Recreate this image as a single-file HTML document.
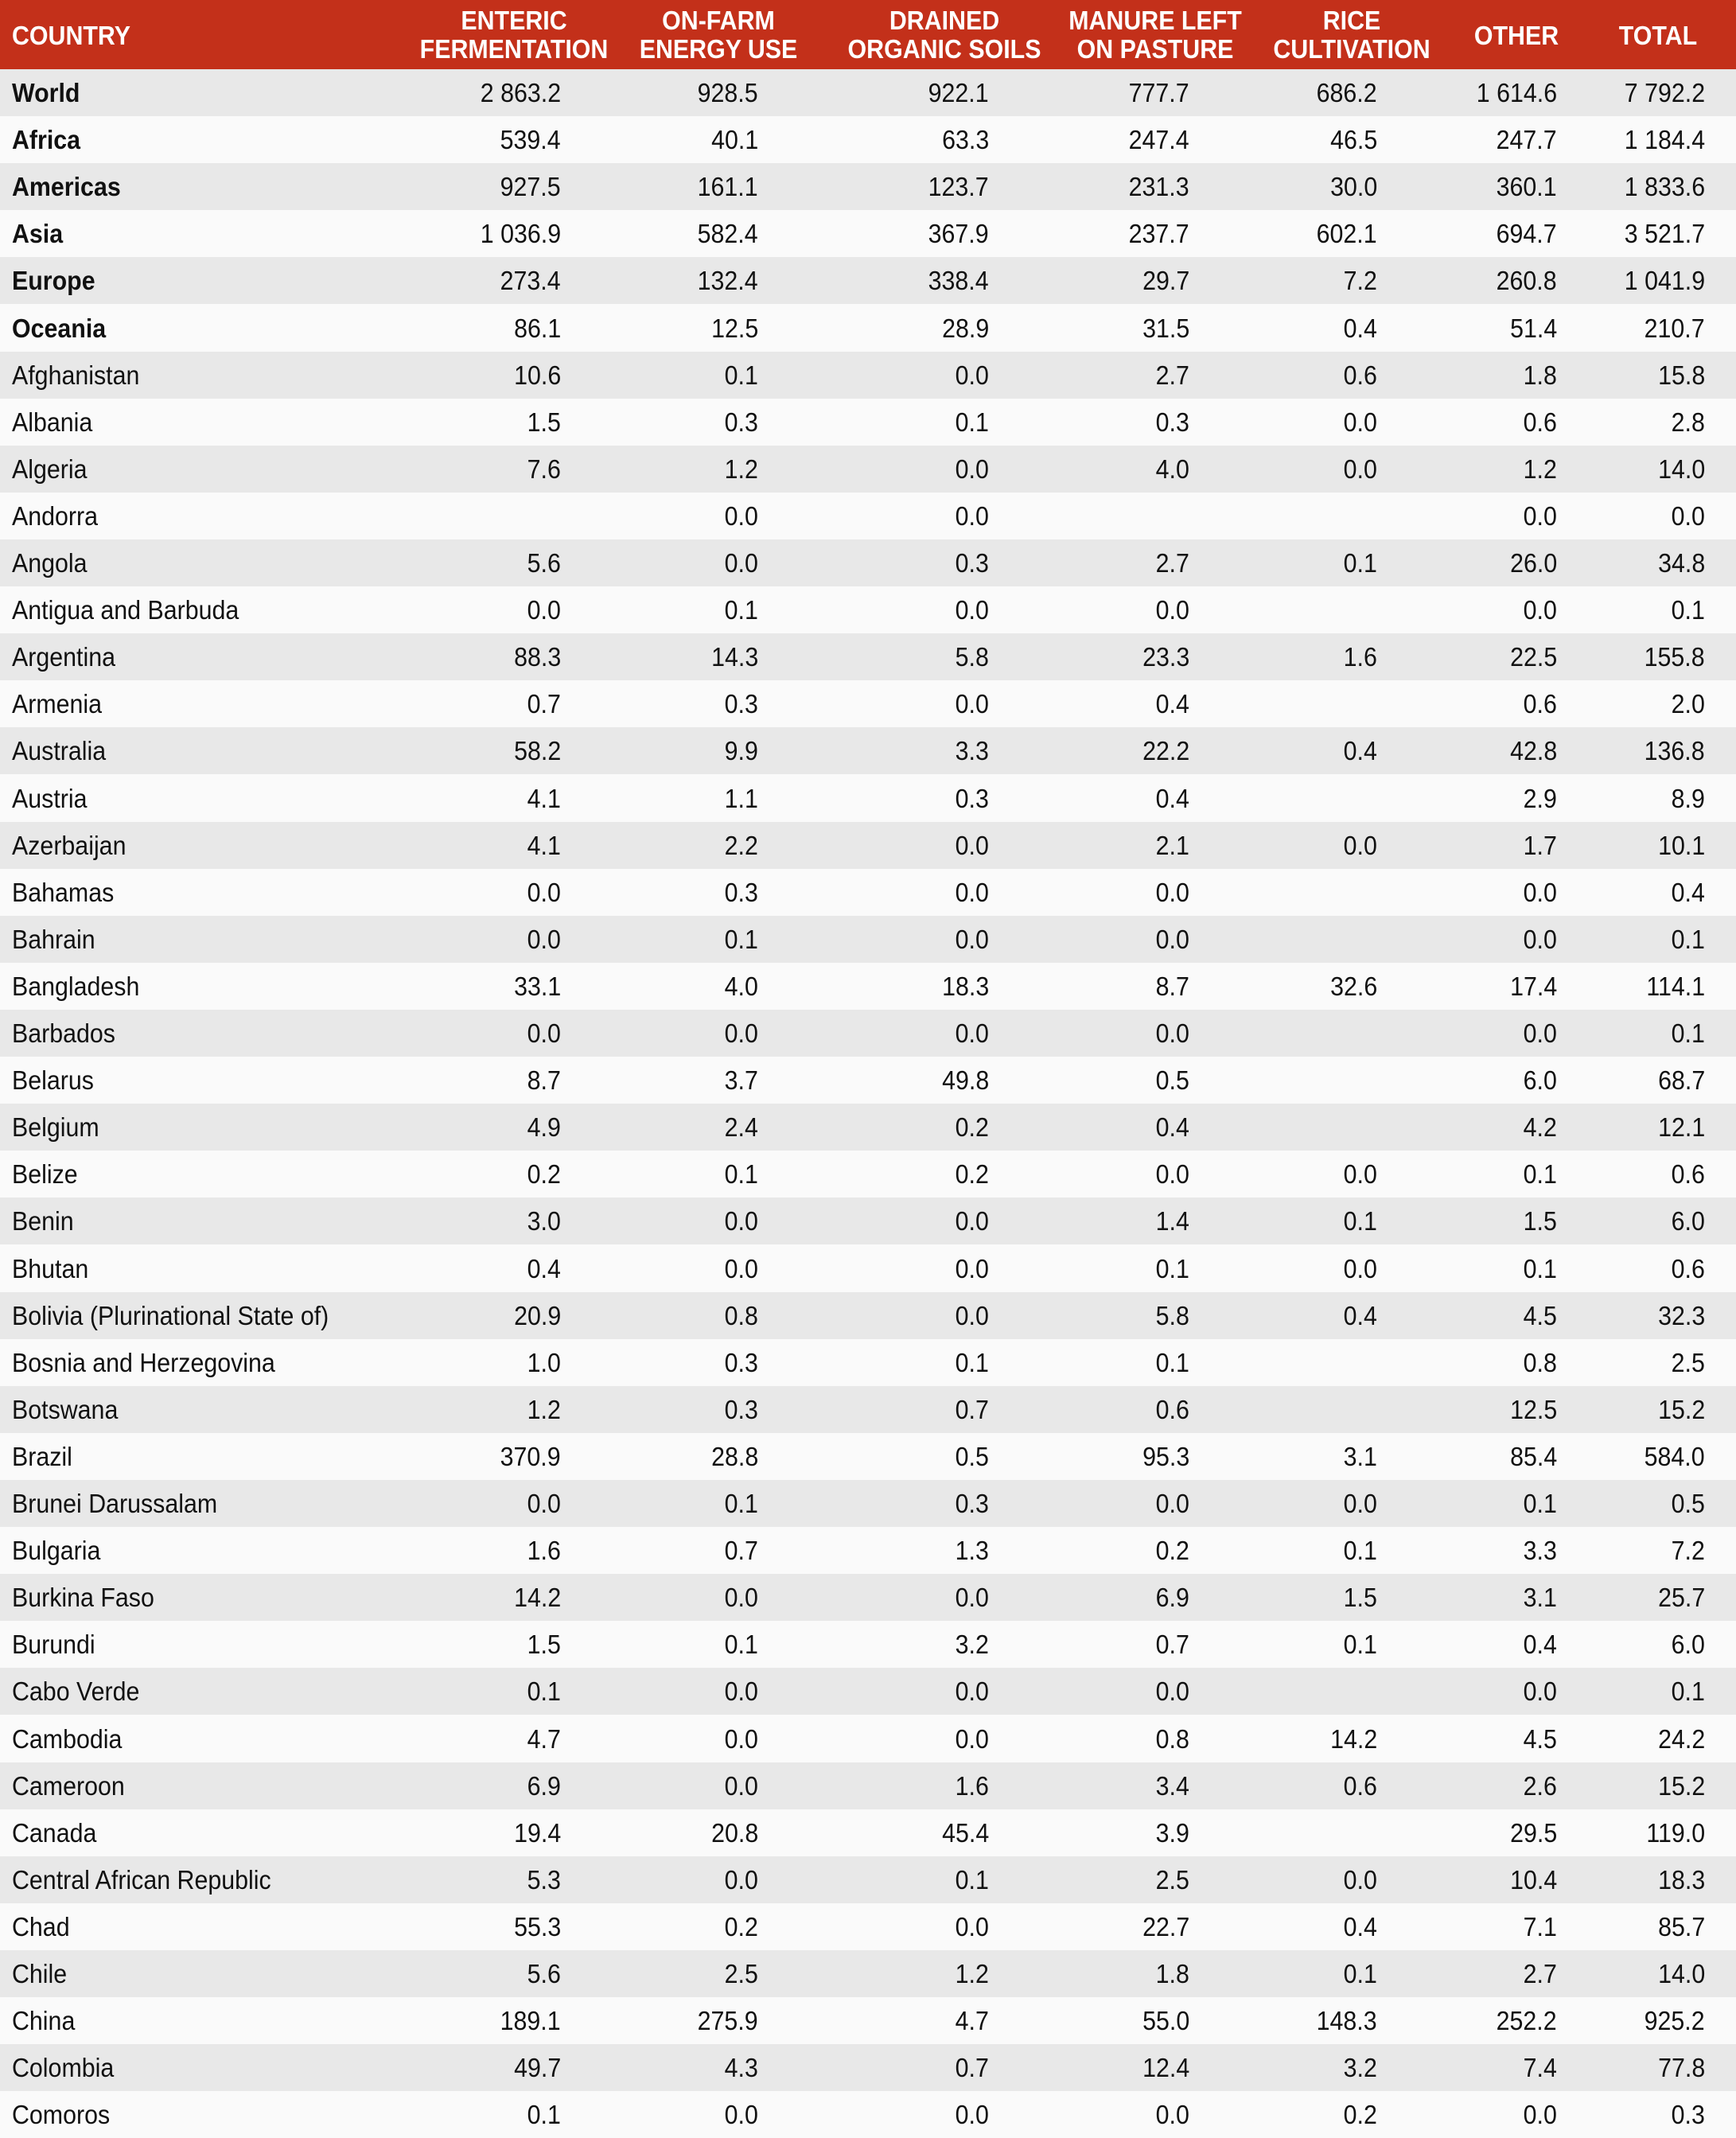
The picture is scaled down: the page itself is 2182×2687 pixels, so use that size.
<!DOCTYPE html>
<html><head><meta charset="utf-8"><style>
body{margin:0;width:2182px;height:2683px;background:#fafafa;font-family:"Liberation Sans",sans-serif;overflow:hidden}
.h{position:absolute;left:0;top:0;width:2182px;height:87px;background:#c3301a;color:#fff;font-weight:bold;font-size:33px}
.h div{position:absolute;text-align:center;line-height:36px;top:8px;transform:scaleX(0.92)}
.r{position:absolute;left:0;width:2182px;height:59.1px;font-size:33px;color:#111}
.r span{position:absolute;top:0;line-height:59px;white-space:nowrap;transform:scaleX(0.92);transform-origin:right center}
.r span.c{left:15px;transform-origin:left center}
.b span.c{font-weight:bold}
.r span:nth-child(2){right:1477px}.r span:nth-child(3){right:1229px}.r span:nth-child(4){right:939px}
.r span:nth-child(5){right:687px}.r span:nth-child(6){right:451px}.r span:nth-child(7){right:225px}.r span:nth-child(8){right:39px}
</style></head><body>
<div class="h">
<div style="left:15px;top:27px;transform-origin:left center">COUNTRY</div>
<div style="left:506px;width:280px">ENTERIC<br>FERMENTATION</div>
<div style="left:763px;width:280px">ON-FARM<br>ENERGY USE</div>
<div style="left:1037px;width:300px">DRAINED<br>ORGANIC SOILS</div>
<div style="left:1312px;width:280px">MANURE LEFT<br>ON PASTURE</div>
<div style="left:1559px;width:280px">RICE<br>CULTIVATION</div>
<div style="left:1846px;width:120px;top:27px">OTHER</div>
<div style="left:2024px;width:120px;top:27px">TOTAL</div>
</div>
<div id="t" style="position:absolute;left:0;top:87px;width:2182px">
<div class="r b" style="top:0px;background:#e8e8e8"><span class="c">World</span><span>2 863.2</span><span>928.5</span><span>922.1</span><span>777.7</span><span>686.2</span><span>1 614.6</span><span>7 792.2</span></div>
<div class="r b" style="top:59.1px;background:#fafafa"><span class="c">Africa</span><span>539.4</span><span>40.1</span><span>63.3</span><span>247.4</span><span>46.5</span><span>247.7</span><span>1 184.4</span></div>
<div class="r b" style="top:118.2px;background:#e8e8e8"><span class="c">Americas</span><span>927.5</span><span>161.1</span><span>123.7</span><span>231.3</span><span>30.0</span><span>360.1</span><span>1 833.6</span></div>
<div class="r b" style="top:177.3px;background:#fafafa"><span class="c">Asia</span><span>1 036.9</span><span>582.4</span><span>367.9</span><span>237.7</span><span>602.1</span><span>694.7</span><span>3 521.7</span></div>
<div class="r b" style="top:236.4px;background:#e8e8e8"><span class="c">Europe</span><span>273.4</span><span>132.4</span><span>338.4</span><span>29.7</span><span>7.2</span><span>260.8</span><span>1 041.9</span></div>
<div class="r b" style="top:295.5px;background:#fafafa"><span class="c">Oceania</span><span>86.1</span><span>12.5</span><span>28.9</span><span>31.5</span><span>0.4</span><span>51.4</span><span>210.7</span></div>
<div class="r" style="top:354.6px;background:#e8e8e8"><span class="c">Afghanistan</span><span>10.6</span><span>0.1</span><span>0.0</span><span>2.7</span><span>0.6</span><span>1.8</span><span>15.8</span></div>
<div class="r" style="top:413.7px;background:#fafafa"><span class="c">Albania</span><span>1.5</span><span>0.3</span><span>0.1</span><span>0.3</span><span>0.0</span><span>0.6</span><span>2.8</span></div>
<div class="r" style="top:472.8px;background:#e8e8e8"><span class="c">Algeria</span><span>7.6</span><span>1.2</span><span>0.0</span><span>4.0</span><span>0.0</span><span>1.2</span><span>14.0</span></div>
<div class="r" style="top:531.9px;background:#fafafa"><span class="c">Andorra</span><span></span><span>0.0</span><span>0.0</span><span></span><span></span><span>0.0</span><span>0.0</span></div>
<div class="r" style="top:591px;background:#e8e8e8"><span class="c">Angola</span><span>5.6</span><span>0.0</span><span>0.3</span><span>2.7</span><span>0.1</span><span>26.0</span><span>34.8</span></div>
<div class="r" style="top:650.1px;background:#fafafa"><span class="c">Antigua and Barbuda</span><span>0.0</span><span>0.1</span><span>0.0</span><span>0.0</span><span></span><span>0.0</span><span>0.1</span></div>
<div class="r" style="top:709.2px;background:#e8e8e8"><span class="c">Argentina</span><span>88.3</span><span>14.3</span><span>5.8</span><span>23.3</span><span>1.6</span><span>22.5</span><span>155.8</span></div>
<div class="r" style="top:768.3px;background:#fafafa"><span class="c">Armenia</span><span>0.7</span><span>0.3</span><span>0.0</span><span>0.4</span><span></span><span>0.6</span><span>2.0</span></div>
<div class="r" style="top:827.4px;background:#e8e8e8"><span class="c">Australia</span><span>58.2</span><span>9.9</span><span>3.3</span><span>22.2</span><span>0.4</span><span>42.8</span><span>136.8</span></div>
<div class="r" style="top:886.5px;background:#fafafa"><span class="c">Austria</span><span>4.1</span><span>1.1</span><span>0.3</span><span>0.4</span><span></span><span>2.9</span><span>8.9</span></div>
<div class="r" style="top:945.6px;background:#e8e8e8"><span class="c">Azerbaijan</span><span>4.1</span><span>2.2</span><span>0.0</span><span>2.1</span><span>0.0</span><span>1.7</span><span>10.1</span></div>
<div class="r" style="top:1004.7px;background:#fafafa"><span class="c">Bahamas</span><span>0.0</span><span>0.3</span><span>0.0</span><span>0.0</span><span></span><span>0.0</span><span>0.4</span></div>
<div class="r" style="top:1063.8px;background:#e8e8e8"><span class="c">Bahrain</span><span>0.0</span><span>0.1</span><span>0.0</span><span>0.0</span><span></span><span>0.0</span><span>0.1</span></div>
<div class="r" style="top:1122.9px;background:#fafafa"><span class="c">Bangladesh</span><span>33.1</span><span>4.0</span><span>18.3</span><span>8.7</span><span>32.6</span><span>17.4</span><span>114.1</span></div>
<div class="r" style="top:1182px;background:#e8e8e8"><span class="c">Barbados</span><span>0.0</span><span>0.0</span><span>0.0</span><span>0.0</span><span></span><span>0.0</span><span>0.1</span></div>
<div class="r" style="top:1241.1px;background:#fafafa"><span class="c">Belarus</span><span>8.7</span><span>3.7</span><span>49.8</span><span>0.5</span><span></span><span>6.0</span><span>68.7</span></div>
<div class="r" style="top:1300.2px;background:#e8e8e8"><span class="c">Belgium</span><span>4.9</span><span>2.4</span><span>0.2</span><span>0.4</span><span></span><span>4.2</span><span>12.1</span></div>
<div class="r" style="top:1359.3px;background:#fafafa"><span class="c">Belize</span><span>0.2</span><span>0.1</span><span>0.2</span><span>0.0</span><span>0.0</span><span>0.1</span><span>0.6</span></div>
<div class="r" style="top:1418.4px;background:#e8e8e8"><span class="c">Benin</span><span>3.0</span><span>0.0</span><span>0.0</span><span>1.4</span><span>0.1</span><span>1.5</span><span>6.0</span></div>
<div class="r" style="top:1477.5px;background:#fafafa"><span class="c">Bhutan</span><span>0.4</span><span>0.0</span><span>0.0</span><span>0.1</span><span>0.0</span><span>0.1</span><span>0.6</span></div>
<div class="r" style="top:1536.6px;background:#e8e8e8"><span class="c">Bolivia (Plurinational State of)</span><span>20.9</span><span>0.8</span><span>0.0</span><span>5.8</span><span>0.4</span><span>4.5</span><span>32.3</span></div>
<div class="r" style="top:1595.7px;background:#fafafa"><span class="c">Bosnia and Herzegovina</span><span>1.0</span><span>0.3</span><span>0.1</span><span>0.1</span><span></span><span>0.8</span><span>2.5</span></div>
<div class="r" style="top:1654.8px;background:#e8e8e8"><span class="c">Botswana</span><span>1.2</span><span>0.3</span><span>0.7</span><span>0.6</span><span></span><span>12.5</span><span>15.2</span></div>
<div class="r" style="top:1713.9px;background:#fafafa"><span class="c">Brazil</span><span>370.9</span><span>28.8</span><span>0.5</span><span>95.3</span><span>3.1</span><span>85.4</span><span>584.0</span></div>
<div class="r" style="top:1773px;background:#e8e8e8"><span class="c">Brunei Darussalam</span><span>0.0</span><span>0.1</span><span>0.3</span><span>0.0</span><span>0.0</span><span>0.1</span><span>0.5</span></div>
<div class="r" style="top:1832.1px;background:#fafafa"><span class="c">Bulgaria</span><span>1.6</span><span>0.7</span><span>1.3</span><span>0.2</span><span>0.1</span><span>3.3</span><span>7.2</span></div>
<div class="r" style="top:1891.2px;background:#e8e8e8"><span class="c">Burkina Faso</span><span>14.2</span><span>0.0</span><span>0.0</span><span>6.9</span><span>1.5</span><span>3.1</span><span>25.7</span></div>
<div class="r" style="top:1950.3px;background:#fafafa"><span class="c">Burundi</span><span>1.5</span><span>0.1</span><span>3.2</span><span>0.7</span><span>0.1</span><span>0.4</span><span>6.0</span></div>
<div class="r" style="top:2009.4px;background:#e8e8e8"><span class="c">Cabo Verde</span><span>0.1</span><span>0.0</span><span>0.0</span><span>0.0</span><span></span><span>0.0</span><span>0.1</span></div>
<div class="r" style="top:2068.5px;background:#fafafa"><span class="c">Cambodia</span><span>4.7</span><span>0.0</span><span>0.0</span><span>0.8</span><span>14.2</span><span>4.5</span><span>24.2</span></div>
<div class="r" style="top:2127.6px;background:#e8e8e8"><span class="c">Cameroon</span><span>6.9</span><span>0.0</span><span>1.6</span><span>3.4</span><span>0.6</span><span>2.6</span><span>15.2</span></div>
<div class="r" style="top:2186.7px;background:#fafafa"><span class="c">Canada</span><span>19.4</span><span>20.8</span><span>45.4</span><span>3.9</span><span></span><span>29.5</span><span>119.0</span></div>
<div class="r" style="top:2245.8px;background:#e8e8e8"><span class="c">Central African Republic</span><span>5.3</span><span>0.0</span><span>0.1</span><span>2.5</span><span>0.0</span><span>10.4</span><span>18.3</span></div>
<div class="r" style="top:2304.9px;background:#fafafa"><span class="c">Chad</span><span>55.3</span><span>0.2</span><span>0.0</span><span>22.7</span><span>0.4</span><span>7.1</span><span>85.7</span></div>
<div class="r" style="top:2364px;background:#e8e8e8"><span class="c">Chile</span><span>5.6</span><span>2.5</span><span>1.2</span><span>1.8</span><span>0.1</span><span>2.7</span><span>14.0</span></div>
<div class="r" style="top:2423.1px;background:#fafafa"><span class="c">China</span><span>189.1</span><span>275.9</span><span>4.7</span><span>55.0</span><span>148.3</span><span>252.2</span><span>925.2</span></div>
<div class="r" style="top:2482.2px;background:#e8e8e8"><span class="c">Colombia</span><span>49.7</span><span>4.3</span><span>0.7</span><span>12.4</span><span>3.2</span><span>7.4</span><span>77.8</span></div>
<div class="r" style="top:2541.3px;background:#fafafa"><span class="c">Comoros</span><span>0.1</span><span>0.0</span><span>0.0</span><span>0.0</span><span>0.2</span><span>0.0</span><span>0.3</span></div>
</div>
</body></html>
